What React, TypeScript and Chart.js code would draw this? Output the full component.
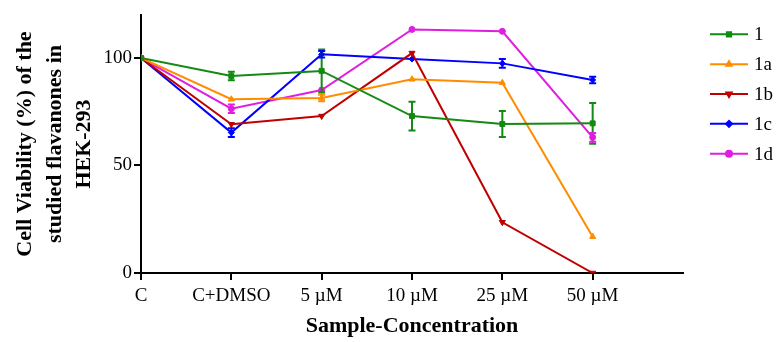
import React, { useEffect, useRef } from "react";
import { Chart, registerables } from "chart.js";
import { drawPoint } from "chart.js/helpers";

Chart.register(...registerables);

const categories = ["C", "C+DMSO", "5 \u00b5M", "10 \u00b5M", "25 \u00b5M", "50 \u00b5M"];
const yTicks = [0, 50, 100];

const seriesNames = ["1", "1a", "1b", "1c", "1d"];
const s1 = [100, 91.6, 94, 73, 69.3, 69.6];
const s1Err = [0, 2, 10, 6.7, 6, 9.5];
const s1a = [100, 80.8, 81.4, 90.1, 88.5, 16.9];
const s1aErr = [0, 0, 1.5, 0, 0, 0];
const s1b = [100, 69.2, 73, 102.3, 23.6, 0];
const s1bErr = [0, 0, 0, 0, 0, 0];
const s1c = [100, 65.3, 101.7, 99.5, 97.5, 89.8];
const s1cErr = [0, 2, 1.5, 0, 2, 1.5];
const s1d = [100, 76.4, 85.1, 113.3, 112.4, 63.1];
const s1dErr = [0, 2, 0, 0, 0, 2];

const colors = ["#138a13", "#ff8c00", "#c00000", "#0000ff", "#e01ee0"];
const styles = ["rect", "triangle", "triangle", "rectRot", "circle"];
const rotations = [0, 0, 180, 0, 0];
const radii = [3.5, 3.5, 3.5, 3, 3];

const FONT = "'Liberation Serif', 'Times New Roman', serif";

const errorBarPlugin = {
  id: "errorBars",
  afterDatasetsDraw(chart: any) {
    const ctx = chart.ctx;
    const xs = chart.scales.x;
    const ys = chart.scales.y;
    chart.data.datasets.forEach((ds: any) => {
      const errs = ds.errors as number[];
      if (!errs) return;
      ctx.save();
      ctx.strokeStyle = ds.borderColor;
      ctx.lineWidth = 2;
      ds.data.forEach((p: any, i: number) => {
        const e = errs[i];
        if (!e) return;
        const x = xs.getPixelForValue(p.x);
        const yTop = ys.getPixelForValue(p.y + e);
        const yBot = ys.getPixelForValue(p.y - e);
        ctx.beginPath();
        ctx.moveTo(x, yTop);
        ctx.lineTo(x, yBot);
        ctx.moveTo(x - 3.5, yTop);
        ctx.lineTo(x + 3.5, yTop);
        ctx.moveTo(x - 3.5, yBot);
        ctx.lineTo(x + 3.5, yBot);
        ctx.stroke();
      });
      ctx.restore();
    });
  },
};

const legendPlugin = {
  id: "customLegend",
  afterDraw(chart: any) {
    const ctx = chart.ctx;
    const right = chart.chartArea.right;
    chart.data.datasets.forEach((ds: any, i: number) => {
      const y = 34.3 + i * 29.85;
      const x0 = right + 27;
      const x1 = right + 65;
      ctx.save();
      ctx.strokeStyle = ds.borderColor;
      ctx.fillStyle = ds.borderColor;
      ctx.lineWidth = 2;
      ctx.beginPath();
      ctx.moveTo(x0, y);
      ctx.lineTo(x1, y);
      ctx.stroke();
      drawPoint(ctx, { pointStyle: ds.pointStyle, rotation: ds.pointRotation || 0, radius: 3, borderWidth: 1 }, (x0 + x1) / 2, y);
      ctx.fillStyle = "#000";
      ctx.font = `19px ${FONT}`;
      ctx.textBaseline = "middle";
      ctx.textAlign = "left";
      ctx.fillText(ds.label, x1 + 6, y + 1);
      ctx.restore();
    });
  },
};

export default function App() {
  const ref = useRef<HTMLCanvasElement>(null);
  useEffect(() => {
    const series = [s1, s1a, s1b, s1c, s1d];
    const errs = [s1Err, s1aErr, s1bErr, s1cErr, s1dErr];
    const chart = new Chart(ref.current as HTMLCanvasElement, {
      type: "line",
      data: {
        datasets: series.map((vals, k) => ({
          label: seriesNames[k],
          data: vals.map((v, i) => ({ x: i, y: v })),
          errors: errs[k],
          borderColor: colors[k],
          backgroundColor: colors[k],
          borderWidth: 2,
          pointStyle: styles[k],
          pointRotation: rotations[k],
          pointRadius: radii[k],
          pointBorderWidth: 1,
          tension: 0,
        })) as any,
      },
      options: {
        responsive: false,
        animation: false,
        devicePixelRatio: 1,
        layout: { padding: { top: 15, right: 95, left: 0, bottom: 0 } },
        plugins: { legend: { display: false }, tooltip: { enabled: false } },
        scales: {
          x: {
            type: "linear",
            min: 0,
            max: 6,
            afterBuildTicks: (scale: any) => {
              scale.ticks = categories.map((_, i) => ({ value: i }));
            },
            afterFit: (scale: any) => {
              scale.height = 69;
            },
            ticks: {
              autoSkip: false,
              maxRotation: 0,
              padding: 5,
              color: "#000",
              font: { family: FONT, size: 19 },
              callback: (v: any) => categories[v] ?? "",
            },
            grid: { drawOnChartArea: false, drawTicks: true, tickLength: 7, color: "#000", lineWidth: 2 },
            border: { color: "#000", width: 2 },
            title: {
              display: true,
              text: "Sample-Concentration",
              color: "#000",
              font: { family: FONT, size: 22, weight: "bold" },
              padding: { top: 0, bottom: 2 },
            },
          },
          y: {
            min: 0,
            max: 120,
            afterBuildTicks: (scale: any) => {
              scale.ticks = yTicks.map((v) => ({ value: v }));
            },
            afterFit: (scale: any) => {
              scale.width = 141;
            },
            ticks: {
              padding: 2,
              color: "#000",
              font: { family: FONT, size: 19 },
            },
            grid: { drawOnChartArea: false, drawTicks: true, tickLength: 7, color: "#000", lineWidth: 2 },
            border: { color: "#000", width: 2 },
            title: {
              display: true,
              text: ["Cell Viability (%) of the", "studied flavanones in", "HEK-293"],
              color: "#000",
              font: { family: FONT, size: 22, weight: "bold", lineHeight: 1.34 },
              padding: { top: 11, bottom: 0 },
            },
          },
        },
      },
      plugins: [errorBarPlugin, legendPlugin],
    } as any);
    return () => chart.destroy();
  }, []);
  return (
    <div style={{ position: "fixed", left: 0, top: 0, width: 778, height: 342, background: "#fff" }}>
      <canvas ref={ref} width={778} height={342} style={{ display: "block", width: 778, height: 342 }} />
    </div>
  );
}
